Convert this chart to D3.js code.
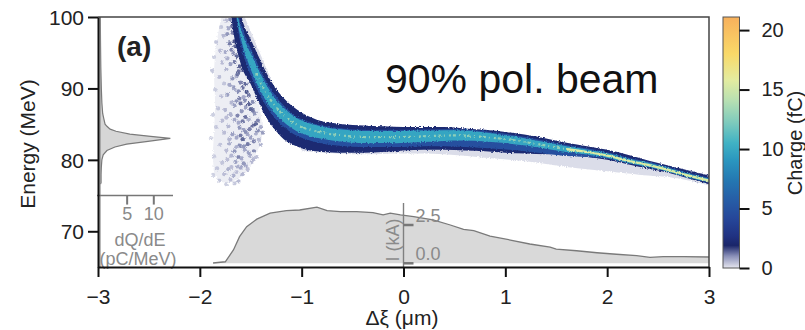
<!DOCTYPE html>
<html><head><meta charset="utf-8">
<script src="https://cdn.jsdelivr.net/npm/d3@7"></script>
<style>
body{margin:0;background:#fff;}
svg{display:block;font-family:"Liberation Sans",Arial,sans-serif;}
</style></head><body>
<svg id="chart" width="805" height="330"></svg>
<script>
// ---- axes ticks ----
const xiTicks = [-3, -2, -1, 0, 1, 2, 3];
const energyTicks = [70, 80, 90, 100];
const chargeTicks = [0, 5, 10, 15, 20];
const specTicks = [5, 10];
const currentTicks = [0, 2.5];

// ---- colour map (charge, fC) ----
const chargeStops = [0, 1.0, 1.9, 2.7, 4.2, 5.9, 7.4, 9.1, 10.5, 12.2, 14.1, 15.8, 18.0, 21.1];
const chargeColors = ["#e6e6ef", "#8a90b8", "#1a2569", "#203282", "#26479a", "#2660a8", "#2478b2",
  "#2b97bf", "#40b2c4", "#7dcabd", "#b8e0b2", "#e3eca0", "#f9d968", "#f7b05c"];

// ---- beam envelope: upper (leading, high energy) edge ----
const upperXi = [-1.605, -1.59, -1.55, -1.50, -1.45, -1.40, -1.35, -1.30, -1.20, -1.10, -1.00, -0.90, -0.80, -0.60, -0.40, -0.20, 0, 0.2, 0.4, 0.6, 0.8, 1.0, 1.2, 1.4, 1.6, 1.8, 2.0, 2.2, 2.4, 2.6, 2.8, 3.0, 3.05];
const upperE  = [101.5, 100, 98.3, 96.9, 95.3, 93.8, 92.3, 91.0, 89.0, 87.6, 86.6, 85.9, 85.4, 85.0, 84.8, 84.7, 84.6, 84.6, 84.6, 84.4, 84.2, 83.9, 83.5, 83.0, 82.4, 81.9, 81.4, 80.7, 79.9, 79.2, 78.5, 77.8, 77.6];
// ---- beam envelope: lower edge ----
const lowerXi = [-1.70, -1.69, -1.66, -1.62, -1.57, -1.50, -1.43, -1.35, -1.25, -1.15, -1.05, -0.95, -0.80, -0.60, -0.40, -0.20, 0, 0.2, 0.4, 0.6, 0.8, 1.0, 1.2, 1.4, 1.6, 1.8, 2.0, 2.2, 2.4, 2.6, 2.8, 3.0, 3.05];
const lowerE  = [101.5, 100, 97.0, 94.5, 92.3, 90.6, 88.3, 86.0, 84.0, 82.6, 81.9, 81.4, 81.1, 81.0, 81.0, 81.1, 81.3, 81.4, 81.4, 81.3, 81.2, 81.0, 80.9, 80.8, 80.8, 80.4, 80.0, 79.4, 78.8, 78.2, 77.4, 76.6, 76.4];
// ---- diffuse low-charge tail below the beam ----
const haloXi = [-1.0, -0.5, 0, 0.4, 0.8, 1.2, 1.6, 2.0, 2.4, 2.6, 2.8, 3.0, 3.05];
const haloE  = [81.2, 80.8, 80.9, 80.8, 80.3, 79.8, 79.0, 78.4, 77.8, 77.6, 77.1, 76.4, 76.2];

// ---- beam core: centre energy and half widths (MeV) ----
const coreXi = [-1.645, -1.62, -1.59, -1.55, -1.50, -1.45, -1.40, -1.30, -1.20, -1.10, -1.00, -0.80, -0.60, -0.40, -0.20, 0, 0.2, 0.4, 0.6, 0.8, 1.0, 1.2, 1.4, 1.6, 1.8, 2.0, 2.2, 2.4, 2.6, 2.8, 3.0, 3.05];
const coreE  = [101, 99, 97.3, 95.5, 93.8, 92.2, 90.7, 88.3, 86.6, 85.4, 84.6, 83.8, 83.4, 83.2, 83.2, 83.2, 83.3, 83.4, 83.4, 83.2, 82.9, 82.5, 82.0, 81.5, 81.1, 80.6, 79.9, 79.3, 78.6, 77.8, 77.1, 76.9];
const coreW  = [0.3, 0.5, 0.7, 0.9, 1.1, 1.2, 1.2, 1.1, 1.0, 0.95, 0.9, 0.85, 0.85, 0.85, 0.85, 0.85, 0.8, 0.75, 0.7, 0.62, 0.55, 0.5, 0.45, 0.4, 0.36, 0.32, 0.3, 0.28, 0.27, 0.26, 0.25, 0.25];
const midUp  = [0.8, 1.2, 1.5, 1.7, 1.8, 1.8, 1.7, 1.6, 1.4, 1.2, 1.1, 1.0, 1.0, 1.0, 1.0, 1.0, 0.95, 0.9, 0.85, 0.8, 0.75, 0.7, 0.65, 0.58, 0.52, 0.48, 0.44, 0.42, 0.4, 0.38, 0.36, 0.36];
const midDn  = [0.8, 1.2, 1.6, 1.8, 2.0, 2.0, 1.9, 1.8, 1.7, 1.6, 1.5, 1.5, 1.45, 1.4, 1.4, 1.4, 1.4, 1.5, 1.6, 1.55, 1.45, 1.3, 1.15, 0.95, 0.7, 0.42, 0.36, 0.33, 0.3, 0.3, 0.3, 0.3];
const coreLevels = {halo: 0.7, edge: 2.2, mid: 4.8, core: 9.8, speck: 13.5, peak: 15.5};

// ---- scattered particles at the beam head [xi, E, charge] ----
const headDots = [
  [-1.74, 99.5, 0.6], [-1.70, 99.6, 1.2],
  [-1.79, 98.6, 0.5], [-1.72, 98.4, 0.9], [-1.68, 98.7, 1.5],
  [-1.77, 97.4, 0.7], [-1.73, 97.6, 1.1],
  [-1.84, 96.5, 0.5], [-1.71, 96.3, 1.4], [-1.66, 96.6, 1.8],
  [-1.80, 95.3, 0.6], [-1.75, 95.1, 0.9], [-1.69, 95.4, 1.3],
  [-1.86, 94.4, 0.4], [-1.73, 94.2, 0.8], [-1.64, 94.5, 1.6],
  [-1.78, 93.6, 0.6], [-1.70, 93.4, 1.0], [-1.66, 93.7, 1.4],
  [-1.88, 92.5, 0.5], [-1.74, 92.7, 0.7], [-1.62, 92.4, 1.5], [-1.58, 92.6, 1.7],
  [-1.81, 91.6, 0.6], [-1.68, 91.4, 1.1], [-1.64, 91.7, 0.8],
  [-1.76, 90.7, 0.5], [-1.71, 90.5, 0.9], [-1.60, 90.8, 1.3], [-1.55, 90.6, 1.6],
  [-1.85, 89.8, 0.4], [-1.66, 89.9, 0.8], [-1.62, 89.6, 1.2],
  [-1.79, 88.9, 0.6], [-1.73, 89.1, 1.0], [-1.57, 88.8, 0.9], [-1.52, 89.0, 1.4],
  [-1.69, 88.0, 0.7], [-1.64, 88.2, 1.1], [-1.60, 87.9, 1.5], [-1.48, 88.1, 1.2],
  [-1.82, 87.2, 0.5], [-1.75, 87.0, 0.7], [-1.55, 87.3, 1.0], [-1.50, 87.1, 1.6],
  [-1.87, 86.3, 0.4], [-1.70, 86.4, 0.8], [-1.63, 86.2, 1.3], [-1.46, 86.5, 1.1],
  [-1.78, 85.5, 0.6], [-1.66, 85.6, 0.9], [-1.58, 85.4, 1.4], [-1.52, 85.7, 0.8], [-1.43, 85.5, 1.3],
  [-1.84, 84.6, 0.5], [-1.72, 84.7, 0.7], [-1.61, 84.5, 1.1], [-1.48, 84.8, 1.5], [-1.40, 84.6, 0.9],
  [-1.76, 83.8, 0.6], [-1.68, 83.6, 1.0], [-1.55, 83.9, 1.2], [-1.45, 83.7, 0.8], [-1.38, 83.8, 1.1],
  [-1.89, 83.0, 0.4], [-1.64, 83.1, 0.9], [-1.58, 82.9, 1.6], [-1.50, 83.1, 1.0], [-1.42, 82.8, 0.7],
  [-1.80, 82.1, 0.5], [-1.71, 82.3, 0.8], [-1.61, 82.0, 1.2], [-1.53, 82.2, 1.4], [-1.40, 82.1, 0.8],
  [-1.74, 81.3, 0.6], [-1.66, 81.2, 1.1], [-1.56, 81.4, 0.9], [-1.47, 81.2, 1.2],
  [-1.86, 80.5, 0.4], [-1.69, 80.6, 0.7], [-1.62, 80.4, 1.3], [-1.51, 80.6, 0.8], [-1.44, 80.4, 0.6],
  [-1.78, 79.6, 0.5], [-1.65, 79.7, 1.0], [-1.57, 79.5, 1.1], [-1.49, 79.7, 0.7],
  [-1.83, 78.8, 0.5], [-1.72, 78.7, 0.8], [-1.60, 78.9, 0.9], [-1.53, 78.7, 0.6],
  [-1.87, 77.9, 0.4], [-1.76, 78.0, 0.6], [-1.67, 77.8, 0.8], [-1.58, 78.0, 0.7],
  [-1.81, 77.1, 0.5], [-1.70, 77.2, 0.6], [-1.62, 77.0, 0.7],
  [-1.74, 76.6, 0.4], [-1.66, 76.7, 0.5],
  // denser patch next to the beam edge
  [-1.68, 97.8, 1.3], [-1.65, 95.9, 1.6], [-1.67, 94.9, 1.2], [-1.61, 93.1, 1.7], [-1.63, 92.0, 1.4],
  [-1.67, 90.2, 1.0], [-1.58, 90.1, 1.5], [-1.54, 89.5, 1.8], [-1.61, 88.6, 1.3], [-1.56, 88.3, 1.2],
  [-1.66, 87.6, 1.0], [-1.52, 87.8, 1.7], [-1.59, 86.8, 1.1], [-1.48, 86.9, 1.4], [-1.55, 86.0, 1.5],
  [-1.62, 85.2, 0.9], [-1.45, 85.0, 1.6], [-1.51, 84.3, 1.3], [-1.57, 84.2, 1.0], [-1.43, 84.1, 1.2],
  [-1.60, 83.4, 1.4], [-1.53, 83.5, 0.9], [-1.47, 82.6, 1.3], [-1.57, 81.9, 1.1], [-1.64, 81.8, 0.8],
  [-1.52, 81.0, 1.0], [-1.59, 80.2, 0.9], [-1.47, 80.1, 0.7], [-1.63, 79.1, 0.8], [-1.55, 79.2, 0.9],
  [-1.69, 79.0, 0.6], [-1.64, 78.3, 0.6], [-1.73, 80.0, 0.6], [-1.71, 82.9, 0.7], [-1.74, 85.9, 0.6]
];
// outline of the sparse head cloud [xi, E]
const cloudXi = [-1.78, -1.84, -1.86, -1.85, -1.86, -1.87, -1.84, -1.75, -1.62, -1.52, -1.46, -1.40, -1.39, -1.43, -1.50, -1.57, -1.62, -1.66, -1.69];
const cloudE  = [100.5, 96, 92, 88, 84, 80, 77.5, 76.8, 77.4, 78.7, 80.5, 82.5, 85.0, 88.3, 90.6, 92.3, 94.5, 97.0, 100.5];

// ---- projected energy spectrum dQ/dE (pC/MeV) ----
const specE = [76.6, 76.8, 78.0, 79.0, 80.0, 80.7, 81.3, 81.8, 82.2, 82.6, 83.0, 83.3, 83.6, 84.0, 84.3, 84.7, 85.0, 85.8, 86.5, 88.0, 90.0, 93.0, 96.0, 100.0];
const specQ = [0.1, 0.2, 0.2, 0.25, 0.35, 0.6, 1.3, 2.8, 5.0, 9.0, 13.2, 9.5, 5.6, 3.0, 1.9, 1.3, 0.95, 0.7, 0.5, 0.35, 0.25, 0.15, 0.1, 0.05];

// ---- current profile I (kA) ----
const curXi = [-1.87, -1.75, -1.67, -1.61, -1.54, -1.44, -1.31, -1.15, -1.02, -0.85, -0.75, -0.62, -0.46, -0.30, -0.20, -0.13, -0.03, 0.10, 0.29, 0.46, 0.59, 0.69, 0.85, 1.05, 1.24, 1.44, 1.50, 1.70, 1.90, 2.09, 2.29, 2.42, 2.55, 2.75, 3.0];
const curI  = [0.02, 0.10, 0.87, 1.74, 2.39, 2.88, 3.27, 3.44, 3.48, 3.66, 3.44, 3.37, 3.37, 3.31, 3.16, 3.27, 3.16, 3.05, 2.83, 2.50, 2.22, 2.13, 1.78, 1.52, 1.26, 1.05, 0.93, 0.82, 0.69, 0.59, 0.50, 0.39, 0.43, 0.43, 0.41];

// ================= drawing =================
const svg = d3.select("#chart");
const x = d3.scaleLinear([-3, 3], [98, 709]);
const y = d3.scaleLinear([65, 100], [267, 17]);
const cScale = d3.scaleLinear(chargeStops, chargeColors).clamp(true);
const sx = d3.scaleLinear([0, 10], [100, 153.3]);
const iy = d3.scaleLinear([0, 2.5], [263.3, 225]);
const cb = d3.scaleLinear([0, 21.1], [268, 17]);

const defs = svg.append("defs");
defs.append("clipPath").attr("id", "plotClip").append("rect")
  .attr("x", x(-3)).attr("y", y(100)).attr("width", x(3) - x(-3)).attr("height", y(65) - y(100));
const rough = defs.append("filter").attr("id", "grain").attr("x", "-5%").attr("y", "-5%").attr("width", "110%").attr("height", "110%");
rough.append("feTurbulence").attr("type", "fractalNoise").attr("baseFrequency", 0.8).attr("numOctaves", 2).attr("seed", 3).attr("result", "n");
rough.append("feDisplacementMap").attr("in", "SourceGraphic").attr("in2", "n").attr("scale", 3).attr("xChannelSelector", "R").attr("yChannelSelector", "G");

// ---- current profile (drawn underneath) ----
const curData = curXi.map((v, i) => [v, curI[i]]);
svg.append("path").datum(curData)
  .attr("fill", "#d9d9d9")
  .attr("d", d3.area().x(d => x(d[0])).y0(iy(0)).y1(d => iy(d[1])));
svg.append("path").datum(curData)
  .attr("fill", "none").attr("stroke", "#7a7a7a").attr("stroke-width", 1.3)
  .attr("d", d3.line().x(d => x(d[0])).y(d => iy(d[1])));

// ---- beam phase space ----
const beam = svg.append("g").attr("clip-path", "url(#plotClip)");
const g = beam.append("g").attr("filter", "url(#grain)");
const pts = (xs, es) => xs.map((v, i) => [x(v), y(es[i])]);
const smooth = d3.line().curve(d3.curveCatmullRom.alpha(0.5));

// head cloud
g.append("path")
  .attr("d", smooth(pts(cloudXi, cloudE)) + "Z")
  .attr("fill", cScale(0.6)).attr("opacity", 0.22);
g.selectAll("circle.head").data(headDots).join("circle")
  .attr("class", "head")
  .attr("cx", d => x(d[0])).attr("cy", d => y(d[1])).attr("r", 2.1)
  .attr("fill", d => cScale(d[2])).attr("opacity", 0.8);

// low-charge halo below the beam, then the beam envelope
g.append("path")
  .attr("d", smooth(pts(upperXi, upperE)) + "L" + smooth(pts(haloXi, haloE).reverse()).slice(1) + "Z")
  .attr("fill", cScale(coreLevels.halo)).attr("opacity", 0.4);
g.append("path")
  .attr("d", smooth(pts(upperXi, upperE)) + "L" + smooth(pts(lowerXi, lowerE).reverse()).slice(1) + "Z")
  .attr("fill", cScale(coreLevels.edge));

const band = (up, dn) => d3.area().curve(d3.curveCatmullRom.alpha(0.5))
  .x((d, i) => x(coreXi[i]))
  .y0((d, i) => y(coreE[i] - dn[i]))
  .y1((d, i) => y(coreE[i] + up[i]));
g.append("path").datum(coreXi).attr("d", band(midUp, midDn)).attr("fill", cScale(coreLevels.mid));
g.append("path").datum(coreXi).attr("d", band(coreW, coreW)).attr("fill", cScale(coreLevels.core));

// brightest particles along the core ridge
const ridge = d3.line().curve(d3.curveCatmullRom.alpha(0.5)).x(i => x(coreXi[i])).y(i => y(coreE[i]));
const idx = d3.range(coreXi.length);
g.append("path").attr("d", ridge(idx.filter(i => coreXi[i] >= -1.45 && coreXi[i] <= 1.8)))
  .attr("fill", "none").attr("stroke", cScale(coreLevels.speck)).attr("stroke-width", 2.2)
  .attr("stroke-dasharray", "3 3 1 4 2 2").attr("opacity", 0.8);
g.append("path").attr("d", ridge(idx.filter(i => coreXi[i] >= 1.6)))
  .attr("fill", "none").attr("stroke", cScale(coreLevels.peak)).attr("stroke-width", 2.2);

// ---- energy spectrum inset ----
const specData = specE.map((e, i) => [specQ[i], e]);
svg.append("path").datum(specData)
  .attr("fill", "#d6d6d6")
  .attr("d", d3.area().y(d => y(d[1])).x0(sx(0)).x1(d => sx(d[0])));
svg.append("path").datum(specData)
  .attr("fill", "none").attr("stroke", "#7a7a7a").attr("stroke-width", 1.2)
  .attr("d", d3.line().x(d => sx(d[0])).y(d => y(d[1])));
svg.append("line").attr("x1", sx(0)).attr("x2", sx(0)).attr("y1", y(100)).attr("y2", y(65))
  .attr("stroke", "#8a8a8a").attr("stroke-width", 1.2);
const specAxis = svg.append("g").attr("transform", `translate(0,${y(75)})`)
  .call(d3.axisBottom(sx).tickValues(specTicks).tickSize(9).tickPadding(3).tickSizeOuter(0));
specAxis.select(".domain").attr("d", `M${x(-3) - 1},0H173`).attr("stroke", "#777").attr("stroke-width", 1.5);
specAxis.selectAll(".tick line").attr("stroke", "#777").attr("stroke-width", 2);
specAxis.selectAll(".tick text").attr("fill", "#8a8a8a").attr("font-size", 18).attr("font-family", null);
svg.append("text").attr("x", 140).attr("y", 246).attr("text-anchor", "middle")
  .attr("fill", "#8a8a8a").attr("font-size", 18).text("dQ/dE");
svg.append("text").attr("x", 138).attr("y", 265).attr("text-anchor", "middle")
  .attr("fill", "#8a8a8a").attr("font-size", 18).text("(pC/MeV)");

// ---- current inset axis ----
const curAxis = svg.append("g").attr("transform", `translate(${x(0)},0)`);
curAxis.append("line").attr("y1", 203).attr("y2", 267).attr("stroke", "#808080").attr("stroke-width", 1.4);
curAxis.selectAll("line.t").data(currentTicks).join("line").attr("class", "t")
  .attr("x1", 0).attr("x2", 10).attr("y1", d => iy(d)).attr("y2", d => iy(d))
  .attr("stroke", "#777").attr("stroke-width", 2.5);
curAxis.selectAll("text.t").data(currentTicks).join("text").attr("class", "t")
  .attr("x", 12).attr("y", d => iy(d) - 3).attr("fill", "#8a8a8a").attr("font-size", 18)
  .text(d => d3.format(".1f")(d));
curAxis.append("text").attr("transform", "translate(-5,240) rotate(-90)").attr("text-anchor", "middle")
  .attr("fill", "#8a8a8a").attr("font-size", 18).text("I (kA)");

// ---- main frame and axes ----
svg.append("path").attr("d", `M${x(-3)},${y(100)}H${x(3)}V${y(65)}`)
  .attr("fill", "none").attr("stroke", "#444").attr("stroke-width", 1.5);
const xAxis = svg.append("g").attr("transform", `translate(0,${y(65)})`)
  .call(d3.axisBottom(x).tickValues(xiTicks).tickFormat(d3.format("d")).tickSize(10).tickSizeOuter(0));
const yAxis = svg.append("g").attr("transform", `translate(${x(-3)},0)`)
  .call(d3.axisLeft(y).tickValues(energyTicks).tickSize(10).tickPadding(4).tickSizeOuter(0));
[xAxis, yAxis].forEach(a => {
  a.select(".domain").attr("stroke", "#111").attr("stroke-width", 2);
  a.selectAll(".tick line").attr("stroke", "#111").attr("stroke-width", 2);
  a.selectAll(".tick text").attr("fill", "#222").attr("font-size", 21).attr("font-family", null);
});
xAxis.selectAll(".tick text").attr("y", 37).attr("dy", 0);
yAxis.selectAll(".tick text").attr("dy", "0.36em");

svg.append("text").attr("x", 402).attr("y", 325).attr("text-anchor", "middle")
  .attr("fill", "#222").attr("font-size", 21).text("Δξ (μm)");
svg.append("text").attr("transform", `translate(35,${(y(65) + y(100)) / 2 + 2}) rotate(-90)`).attr("text-anchor", "middle")
  .attr("fill", "#222").attr("font-size", 21).text("Energy (MeV)");

svg.append("text").attr("x", 117).attr("y", 56).attr("font-weight", "bold").attr("font-size", 28)
  .attr("fill", "#222").text("(a)");
svg.append("text").attr("x", 385).attr("y", 93).attr("font-size", 41)
  .attr("fill", "#111").text("90% pol. beam");

// ---- colour bar ----
const grad = defs.append("linearGradient").attr("id", "cbGrad").attr("x1", 0).attr("y1", 1).attr("x2", 0).attr("y2", 0);
grad.selectAll("stop").data(chargeStops).join("stop")
  .attr("offset", d => d / 21.1).attr("stop-color", d => cScale(d));
svg.append("rect").attr("x", 723).attr("y", cb(21.1)).attr("width", 16.5).attr("height", cb(0) - cb(21.1))
  .attr("fill", "url(#cbGrad)").attr("stroke", "#555").attr("stroke-width", 1);
const cbAxis = svg.append("g").attr("transform", "translate(739.5,0)")
  .call(d3.axisRight(cb).tickValues(chargeTicks).tickSize(10).tickPadding(12).tickSizeOuter(0));
cbAxis.select(".domain").remove();
cbAxis.selectAll(".tick line").attr("stroke", "#111").attr("stroke-width", 2);
cbAxis.selectAll(".tick text").attr("fill", "#222").attr("font-size", 20).attr("font-family", null);
svg.append("text").attr("transform", `translate(802,${143}) rotate(-90)`).attr("text-anchor", "middle")
  .attr("fill", "#222").attr("font-size", 20).text("Charge (fC)");
</script>
</body></html>
